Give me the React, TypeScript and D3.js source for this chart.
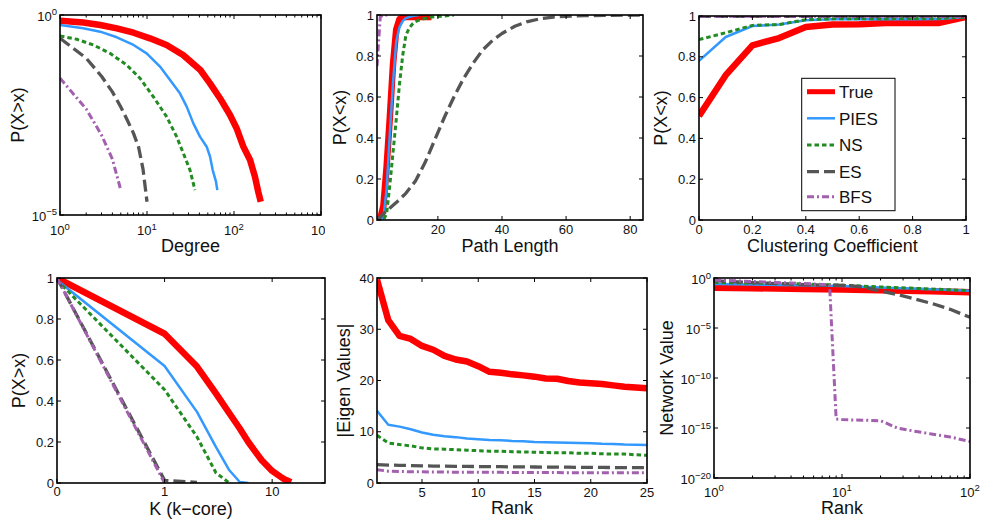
import React from 'react';
import * as d3 from 'd3';

const W = 982;
const H = 524;
const FONT = "'Liberation Sans', Arial, Helvetica, sans-serif";

const NAMES = ['True', 'PIES', 'NS', 'ES', 'BFS'];
const COLORS = ['#ff0000', '#3399ff', '#228b22', '#555555', '#a260ae'];
const WIDTHS = [6.5, 2.5, 3, 3.3, 3];
const DASHES = ['', '', '4.5,3', '12,5', '7,3,2,3'];

// ---- Degree (log-log CCDF)
const degreeTrueX = [1, 1.85, 2.9, 4.5, 7, 10.8, 16.8, 26, 41, 53, 69, 90, 107, 128, 153, 174, 190, 203];
const degreeTrueY = [0.721, 0.646, 0.562, 0.464, 0.361, 0.261, 0.178, 0.1, 0.0422, 0.0195, 0.00832, 0.00316, 0.00148, 5.13e-4, 2.37e-4, 9.1e-5, 3.8e-5, 2.14e-5];
const degreePiesX = [1, 1.85, 2.9, 4.5, 7, 9.9, 14.1, 18.4, 23.9, 28.6, 34.1, 40.6, 48.5, 53, 56.9, 62.1, 64.3];
const degreePiesY = [0.562, 0.464, 0.383, 0.277, 0.178, 0.11, 0.0513, 0.0237, 0.011, 0.00513, 0.00195, 9.1e-4, 5.1e-4, 2.9e-4, 1.33e-4, 6.8e-5, 4.2e-5];
const degreeNsX = [1, 1.56, 2.42, 3.76, 5.84, 8.3, 11.8, 16.8, 21.9, 26.2, 31.2, 35.6];
const degreeNsY = [0.299, 0.247, 0.178, 0.11, 0.0562, 0.0263, 0.00912, 0.00288, 9.1e-4, 3.47e-4, 1.33e-4, 4.2e-5];
const degreeEsX = [1, 2, 3, 4, 5, 6, 7, 8, 9, 10];
const degreeEsY = [0.263, 0.0832, 0.0295, 0.012, 0.005, 0.00224, 0.0011, 5e-4, 1.4e-4, 2.14e-5];
const degreeBfsX = [1, 2, 3, 4, 5];
const degreeBfsY = [0.0263, 0.00447, 0.001, 2.5e-4, 4.2e-5];

// ---- Path length (CDF)
const pathTrueX = [1, 2, 3, 4, 5, 6, 7, 8, 9, 10, 12, 14, 16, 18];
const pathTrueY = [0, 0.005, 0.07, 0.26, 0.5, 0.76, 0.93, 0.98, 0.988, 0.99, 0.99, 0.99, 0.99, 0.99];
const pathPiesX = [1, 2, 3, 4, 5, 6, 7, 8, 9, 10, 12, 14];
const pathPiesY = [0, 0, 0.01, 0.15, 0.42, 0.67, 0.87, 0.94, 0.97, 0.985, 0.995, 1];
const pathNsX = [1, 2, 3, 4, 5, 6, 7, 8, 9, 10, 11, 12, 13, 15, 18, 22, 25];
const pathNsY = [0, 0, 0, 0.03, 0.17, 0.33, 0.49, 0.66, 0.8, 0.9, 0.935, 0.955, 0.968, 0.98, 0.99, 0.995, 1];
const pathEsX = [1, 2, 4, 7, 10, 13, 16, 19, 22, 25, 28, 31, 34, 37, 40, 44, 48, 52, 56, 60, 66, 72, 78, 84];
const pathEsY = [0, 0.015, 0.045, 0.085, 0.13, 0.19, 0.28, 0.39, 0.5, 0.6, 0.69, 0.765, 0.83, 0.875, 0.91, 0.945, 0.968, 0.982, 0.99, 0.994, 0.997, 0.998, 0.999, 1];
const pathBfsX = [1, 2, 3, 5];
const pathBfsY = [0.75, 0.99, 1, 1];

// ---- Clustering coefficient (CDF)
const ccX = [0, 0.1, 0.2, 0.3, 0.4, 0.5, 0.6, 0.7, 0.8, 0.9, 1];
const ccTrue = [0.51, 0.71, 0.856, 0.892, 0.946, 0.958, 0.96, 0.966, 0.966, 0.966, 0.995];
const ccPies = [0.78, 0.897, 0.951, 0.958, 0.979, 0.984, 0.984, 0.984, 0.984, 0.985, 0.995];
const ccNs = [0.884, 0.918, 0.954, 0.958, 0.982, 0.986, 0.987, 0.987, 0.988, 0.988, 0.995];
const ccEs = [0.998, 0.998, 0.998, 0.998, 0.998, 0.998, 0.998, 0.998, 0.998, 0.998, 0.998];
const ccBfs = [0.999, 0.999, 0.999, 0.999, 0.999, 0.999, 0.999, 0.999, 0.999, 0.999, 0.999];

// ---- K-core (CCDF)
const kTrueX = [0, 1, 2, 3, 4, 5, 6, 7, 8, 10, 12, 13, 15];
const kTrueY = [1.0, 0.728, 0.568, 0.437, 0.34, 0.266, 0.2, 0.152, 0.111, 0.059, 0.03, 0.018, 0.004];
const kPiesX = [0, 1, 2, 3, 4, 5, 6];
const kPiesY = [0.99, 0.571, 0.347, 0.176, 0.062, 0.005, 0];
const kNsX = [0, 1, 2, 3, 4];
const kNsY = [0.99, 0.455, 0.225, 0.05, 0];
const kEsX = [0, 1, 2];
const kEsY = [1.0, 0.013, 0.003];
const kBfsX = [0, 1];
const kBfsY = [1.0, 0];

// ---- Eigenvalues
const eigRank = [1, 2, 3, 4, 5, 6, 7, 8, 9, 10, 11, 12, 13, 14, 15, 16, 17, 18, 19, 20, 21, 22, 23, 24, 25];
const eigTrue = [39.7, 31.8, 28.7, 28.1, 26.75, 26.0, 24.8, 24.1, 23.7, 22.8, 21.7, 21.5, 21.2, 21.0, 20.75, 20.4, 20.35, 19.9, 19.6, 19.45, 19.3, 19.05, 18.8, 18.65, 18.5];
const eigPies = [14.1, 11.35, 11.0, 10.5, 9.85, 9.4, 9.1, 8.95, 8.7, 8.55, 8.4, 8.35, 8.2, 8.15, 8.0, 7.95, 7.9, 7.85, 7.8, 7.75, 7.65, 7.6, 7.5, 7.45, 7.4];
const eigNs = [9.3, 7.8, 7.5, 7.25, 6.85, 6.65, 6.6, 6.5, 6.4, 6.3, 6.2, 6.2, 6.1, 6.05, 6.0, 5.95, 5.9, 5.9, 5.8, 5.8, 5.7, 5.65, 5.65, 5.5, 5.4];
const eigEs = [3.6, 3.5, 3.45, 3.4, 3.35, 3.3, 3.3, 3.25, 3.25, 3.2, 3.2, 3.18, 3.15, 3.15, 3.12, 3.1, 3.1, 3.08, 3.05, 3.05, 3.03, 3.02, 3.0, 3.0, 3.0];
const eigBfs = [2.6, 2.3, 2.25, 2.2, 2.2, 2.15, 2.15, 2.1, 2.1, 2.1, 2.08, 2.08, 2.05, 2.05, 2.05, 2.03, 2.03, 2.02, 2.02, 2.0, 2.0, 2.0, 2.0, 2.0, 2.0];

// ---- Network value (log-log)
const nvRankX = [1, 2, 5, 10, 20, 50, 100];
const nvTrue = [0.107, 0.0955, 0.0794, 0.0708, 0.0603, 0.0468, 0.0372];
const nvPies = [0.251, 0.224, 0.191, 0.158, 0.112, 0.0759, 0.0525];
const nvNs = [0.355, 0.316, 0.251, 0.191, 0.126, 0.0794, 0.0537];
const nvEsX = [1, 2, 4, 6, 11, 15, 21, 28, 38, 52, 70, 100];
const nvEs = [0.537, 0.339, 0.251, 0.2, 0.186, 0.117, 0.0427, 0.02, 0.0074, 0.0025, 7.4e-4, 1.17e-4];
const nvBfsX = [1, 2, 3, 4, 5, 6, 7, 8, 9, 10, 12, 15, 20, 27, 38, 50, 70, 100];
const nvBfs = [0.631, 0.447, 0.355, 0.316, 0.282, 0.251, 0.224, 0.2, 7.94e-15, 7.08e-15, 6.31e-15, 6.03e-15, 5.37e-15, 1e-15, 4.47e-16, 2.51e-16, 1.26e-16, 4.47e-17];

type Tick = { v: number; t: string; e?: string };
type Series = { x: number[]; y: number[] };
type Box = { x0: number; x1: number; y0: number; y1: number };

function TickText({ x, y, anchor, t, e }: { x: number; y: number; anchor: string; t: string; e?: string }) {
  return (
    <text x={x} y={y} textAnchor={anchor as any} fontSize={13} fill="#111">
      {t}
      {e !== undefined && (
        <tspan dy={-5.5} fontSize={9.5}>
          {e}
        </tspan>
      )}
    </text>
  );
}

function Panel(props: {
  id: string;
  box: Box;
  xs: any;
  ys: any;
  xMap?: (v: number) => number;
  series: Series[];
  xTicks: Tick[];
  yTicks: Tick[];
  xMinor?: number[];
  xTickDy: number;
  yTickDy: number;
  xLabel: string;
  yLabel: string;
  yLabelX: number;
  xLabelY: number;
  xLabelClip?: number;
  children?: any;
}) {
  const { id, box, xs, ys, series } = props;
  const xm = props.xMap || ((v: number) => v);
  const L = 4;
  const Lm = 2.5;
  const line = d3
    .line<[number, number]>()
    .x((d) => xs(xm(d[0])))
    .y((d) => ys(d[1]));
  return (
    <g>
      <defs>
        <clipPath id={`clip-${id}`}>
          <rect x={box.x0} y={box.y0} width={box.x1 - box.x0} height={box.y1 - box.y0} />
        </clipPath>
        {props.xLabelClip !== undefined && (
          <clipPath id={`lclip-${id}`}>
            <rect x={0} y={0} width={props.xLabelClip} height={H} />
          </clipPath>
        )}
      </defs>
      <rect x={box.x0} y={box.y0} width={box.x1 - box.x0} height={box.y1 - box.y0} fill="#fff" />
      <g clipPath={`url(#clip-${id})`}>
        {series.map((s, i) => (
          <path
            key={i}
            d={line(s.x.map((v, j) => [v, s.y[j]] as [number, number])) || ''}
            fill="none"
            stroke={COLORS[i]}
            strokeWidth={WIDTHS[i]}
            strokeDasharray={DASHES[i] || undefined}
            strokeLinejoin="round"
          />
        ))}
      </g>
      <g stroke="#000" strokeWidth={1}>
        {props.xTicks.map((tk, i) => {
          const px = xs(tk.v);
          return (
            <g key={`xt${i}`}>
              <line x1={px} x2={px} y1={box.y1} y2={box.y1 - L} />
              <line x1={px} x2={px} y1={box.y0} y2={box.y0 + L} />
            </g>
          );
        })}
        {(props.xMinor || []).map((v, i) => {
          const px = xs(v);
          return (
            <g key={`xm${i}`}>
              <line x1={px} x2={px} y1={box.y1} y2={box.y1 - Lm} />
              <line x1={px} x2={px} y1={box.y0} y2={box.y0 + Lm} />
            </g>
          );
        })}
        {props.yTicks.map((tk, i) => {
          const py = ys(tk.v);
          return (
            <g key={`yt${i}`}>
              <line x1={box.x0} x2={box.x0 + L} y1={py} y2={py} />
              <line x1={box.x1} x2={box.x1 - L} y1={py} y2={py} />
            </g>
          );
        })}
      </g>
      <rect
        x={box.x0}
        y={box.y0}
        width={box.x1 - box.x0}
        height={box.y1 - box.y0}
        fill="none"
        stroke="#000"
        strokeWidth={1.6}
      />
      <g clipPath={props.xLabelClip !== undefined ? `url(#lclip-${id})` : undefined}>
        {props.xTicks.map((tk, i) => (
          <TickText key={`xl${i}`} x={xs(tk.v)} y={box.y1 + props.xTickDy} anchor="middle" t={tk.t} e={tk.e} />
        ))}
      </g>
      {props.yTicks.map((tk, i) => (
        <TickText key={`yl${i}`} x={box.x0 - 3} y={ys(tk.v) + props.yTickDy} anchor="end" t={tk.t} e={tk.e} />
      ))}
      <text x={(box.x0 + box.x1) / 2} y={props.xLabelY} textAnchor="middle" fontSize={18} fill="#111">
        {props.xLabel}
      </text>
      <text
        transform={`translate(${props.yLabelX},${(box.y0 + box.y1) / 2}) rotate(-90)`}
        textAnchor="middle"
        fontSize={18}
        fill="#111"
      >
        {props.yLabel}
      </text>
      {props.children}
    </g>
  );
}

const lin01: Tick[] = [0, 0.2, 0.4, 0.6, 0.8, 1].map((v) => ({ v, t: String(v) }));

export default function App() {
  const b1: Box = { x0: 60, x1: 321, y0: 15, y1: 215 };
  const x1s = d3.scaleLog().domain([1, 1000]).range([b1.x0, b1.x1]);
  const y1s = d3.scaleLog().domain([1e-5, 1]).range([b1.y1, b1.y0]);
  const minor3: number[] = [];
  [1, 10, 100].forEach((d) => [2, 3, 4, 5, 6, 7, 8, 9].forEach((m) => minor3.push(d * m)));

  const b2: Box = { x0: 377, x1: 643, y0: 15, y1: 220 };
  const x2s = d3.scaleLinear().domain([1, 84]).range([b2.x0, b2.x1]);
  const y2s = d3.scaleLinear().domain([0, 1]).range([b2.y1, b2.y0]);

  const b3: Box = { x0: 699, x1: 966, y0: 16, y1: 220 };
  const x3s = d3.scaleLinear().domain([0, 1]).range([b3.x0, b3.x1]);
  const y3s = d3.scaleLinear().domain([0, 1]).range([b3.y1, b3.y0]);

  const b4: Box = { x0: 57, x1: 325, y0: 278, y1: 483 };
  const x4s = d3.scaleLog().domain([0.1, 31]).range([b4.x0, b4.x1]);
  const y4s = d3.scaleLinear().domain([0, 1]).range([b4.y1, b4.y0]);

  const b5: Box = { x0: 377, x1: 647, y0: 278, y1: 483 };
  const x5s = d3.scaleLinear().domain([1, 25]).range([b5.x0, b5.x1]);
  const y5s = d3.scaleLinear().domain([0, 40]).range([b5.y1, b5.y0]);

  const b6: Box = { x0: 714, x1: 970, y0: 278, y1: 478 };
  const x6s = d3.scaleLog().domain([1, 100]).range([b6.x0, b6.x1]);
  const y6s = d3.scaleLog().domain([1e-20, 1]).range([b6.y1, b6.y0]);
  const minor2: number[] = [];
  [1, 10].forEach((d) => [2, 3, 4, 5, 6, 7, 8, 9].forEach((m) => minor2.push(d * m)));

  const lg = { x: 801.7, y: 78.3, w: 93.3, h: 132.4 };
  const lgRows = [91.7, 118.3, 145, 171.7, 196.7];

  return (
    <svg width={W} height={H} viewBox={`0 0 ${W} ${H}`} style={{ fontFamily: FONT, display: 'block', position: 'absolute', left: 0, top: 0, background: '#fff' }}>
      <rect x={0} y={0} width={W} height={H} fill="#fff" />
      <Panel
        id="p1"
        box={b1}
        xs={x1s}
        ys={y1s}
        series={[
          { x: degreeTrueX, y: degreeTrueY },
          { x: degreePiesX, y: degreePiesY },
          { x: degreeNsX, y: degreeNsY },
          { x: degreeEsX, y: degreeEsY },
          { x: degreeBfsX, y: degreeBfsY },
        ]}
        xTicks={[
          { v: 1, t: '10', e: '0' },
          { v: 10, t: '10', e: '1' },
          { v: 100, t: '10', e: '2' },
          { v: 1000, t: '10', e: '3' },
        ]}
        xMinor={minor3}
        yTicks={[
          { v: 1, t: '10', e: '0' },
          { v: 1e-5, t: '10', e: '\u22125' },
        ]}
        xTickDy={20}
        yTickDy={5.5}
        xLabel="Degree"
        yLabel="P(X>x)"
        yLabelX={24}
        xLabelY={252}
        xLabelClip={325}
      />
      <Panel
        id="p2"
        box={b2}
        xs={x2s}
        ys={y2s}
        series={[
          { x: pathTrueX, y: pathTrueY },
          { x: pathPiesX, y: pathPiesY },
          { x: pathNsX, y: pathNsY },
          { x: pathEsX, y: pathEsY },
          { x: pathBfsX, y: pathBfsY },
        ]}
        xTicks={[20, 40, 60, 80].map((v) => ({ v, t: String(v) }))}
        yTicks={lin01}
        xTickDy={13.5}
        yTickDy={4.5}
        xLabel="Path Length"
        yLabel="P(X<x)"
        yLabelX={346}
        xLabelY={252}
      />
      <Panel
        id="p3"
        box={b3}
        xs={x3s}
        ys={y3s}
        series={[
          { x: ccX, y: ccTrue },
          { x: ccX, y: ccPies },
          { x: ccX, y: ccNs },
          { x: ccX, y: ccEs },
          { x: ccX, y: ccBfs },
        ]}
        xTicks={lin01}
        yTicks={lin01}
        xTickDy={13.5}
        yTickDy={4.5}
        xLabel="Clustering Coefficient"
        yLabel="P(X<x)"
        yLabelX={667}
        xLabelY={252}
      >
        <g>
          <rect x={lg.x} y={lg.y} width={lg.w} height={lg.h} fill="#fff" stroke="#000" strokeWidth={1} />
          {NAMES.map((n, i) => (
            <g key={n}>
              <line
                x1={807}
                x2={835}
                y1={lgRows[i]}
                y2={lgRows[i]}
                stroke={COLORS[i]}
                strokeWidth={i === 0 ? 5 : WIDTHS[i]}
                strokeDasharray={DASHES[i] || undefined}
              />
              <text x={839} y={lgRows[i] + 6.3} fontSize={17} fill="#111">
                {n}
              </text>
            </g>
          ))}
        </g>
      </Panel>
      <Panel
        id="p4"
        box={b4}
        xs={x4s}
        ys={y4s}
        xMap={(v: number) => Math.max(v, 0.1)}
        series={[
          { x: kTrueX, y: kTrueY },
          { x: kPiesX, y: kPiesY },
          { x: kNsX, y: kNsY },
          { x: kEsX, y: kEsY },
          { x: kBfsX, y: kBfsY },
        ]}
        xTicks={[
          { v: 0.1, t: '0' },
          { v: 1, t: '1' },
          { v: 10, t: '10' },
        ]}
        yTicks={lin01}
        xTickDy={13}
        yTickDy={4.5}
        xLabel={'K (k\u2212core)'}
        yLabel="P(X>x)"
        yLabelX={25}
        xLabelY={515}
      />
      <Panel
        id="p5"
        box={b5}
        xs={x5s}
        ys={y5s}
        series={[
          { x: eigRank, y: eigTrue },
          { x: eigRank, y: eigPies },
          { x: eigRank, y: eigNs },
          { x: eigRank, y: eigEs },
          { x: eigRank, y: eigBfs },
        ]}
        xTicks={[5, 10, 15, 20, 25].map((v) => ({ v, t: String(v) }))}
        yTicks={[0, 10, 20, 30, 40].map((v) => ({ v, t: String(v) }))}
        xTickDy={13.5}
        yTickDy={4.5}
        xLabel="Rank"
        yLabel="|Eigen Values|"
        yLabelX={350}
        xLabelY={514}
      />
      <Panel
        id="p6"
        box={b6}
        xs={x6s}
        ys={y6s}
        series={[
          { x: nvRankX, y: nvTrue },
          { x: nvRankX, y: nvPies },
          { x: nvRankX, y: nvNs },
          { x: nvEsX, y: nvEs },
          { x: nvBfsX, y: nvBfs },
        ]}
        xTicks={[
          { v: 1, t: '10', e: '0' },
          { v: 10, t: '10', e: '1' },
          { v: 100, t: '10', e: '2' },
        ]}
        xMinor={minor2}
        yTicks={[
          { v: 1, t: '10', e: '0' },
          { v: 1e-5, t: '10', e: '\u22125' },
          { v: 1e-10, t: '10', e: '\u221210' },
          { v: 1e-15, t: '10', e: '\u221215' },
          { v: 1e-20, t: '10', e: '\u221220' },
        ]}
        xTickDy={18.5}
        yTickDy={6}
        xLabel="Rank"
        yLabel="Network Value"
        yLabelX={673}
        xLabelY={514}
      />
    </svg>
  );
}
